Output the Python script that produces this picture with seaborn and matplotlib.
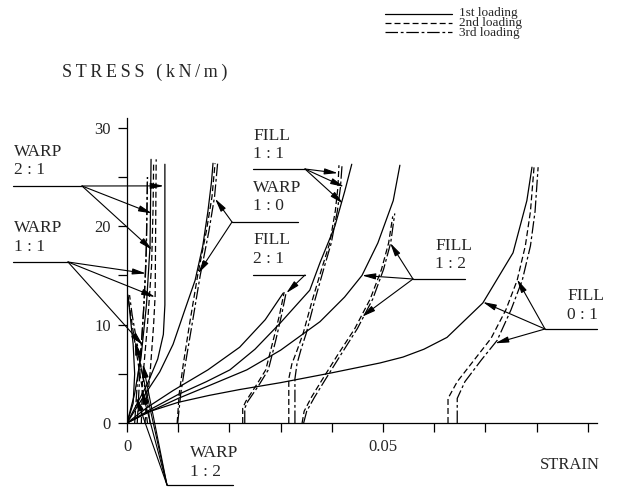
import numpy as np
import pandas as pd
import matplotlib
matplotlib.use('Agg')
import matplotlib.pyplot as plt
from matplotlib.lines import Line2D
import seaborn as sns

# --- Data: (strain, stress kN/m) ---
LOADINGS = ['1st loading', '2nd loading', '3rd loading']

WARP_21_1ST = [(0, 0), (0.002, 2), (0.004, 4), (0.006, 6.5), (0.0071, 9), (0.0074, 12), (0.0074, 26.3)]
WARP_21_2ND = [(0.0028, 0), (0.003, 4), (0.004, 10), (0.0048, 16), (0.0051, 22), (0.0052, 26.5)]
WARP_21_3RD = [(0.002, 0), (0.0025, 5), (0.0033, 12), (0.0038, 18), (0.004, 25)]

WARP_11_1ST = [(0, 0), (0.0015, 3), (0.0028, 7), (0.0038, 12), (0.0045, 18), (0.0047, 26.8)]
WARP_11_2ND = [(0.0035, 0), (0.0045, 5), (0.0052, 10), (0.0055, 13), (0.0056, 20), (0.0057, 26.8)]
WARP_11_3RD = [(0.0015, 0), (0.002, 4), (0.0028, 8), (0.0033, 12), (0.0037, 16), (0.0039, 22), (0.004, 25)]

WARP_12_1ST = [(0, 0), (0.0012, 2), (0.0015, 5), (0.0012, 8), (0.0006, 11), (0.0002, 13)]
WARP_12_2ND = [(0.004, 0), (0.0035, 2), (0.0025, 5), (0.0013, 9), (0.0002, 12.8)]
WARP_12_3RD = [(0.0045, 0), (0.004, 2), (0.003, 5), (0.002, 8), (0.001, 11), (0.0005, 13)]

WARP_10_1ST = [(0, 0), (0.003, 2.5), (0.0064, 5.2), (0.009, 8), (0.0113, 11.5), (0.0133, 14.5),
               (0.0148, 18), (0.0158, 21.5), (0.0165, 24.5), (0.0168, 26.4)]
WARP_10_2ND = [(0.0098, 0), (0.0102, 3), (0.011, 6), (0.0122, 10), (0.0138, 15), (0.0155, 19.5),
               (0.0166, 23), (0.0172, 26.4)]
WARP_10_3RD = [(0.0099, 0), (0.0105, 3), (0.0114, 6), (0.0127, 10), (0.0143, 15), (0.016, 19.5),
               (0.0171, 23), (0.0177, 26.4)]

FILL_21_1ST = [(0, 0), (0.004, 1.6), (0.009, 3.3), (0.0158, 5.4), (0.022, 7.7), (0.027, 10.5), (0.0305, 13.2)]
FILL_21_2ND = [(0.0226, 0), (0.0226, 1.5), (0.0232, 2.2), (0.0252, 3.8), (0.0271, 5.4), (0.0286, 8.5),
               (0.0298, 11), (0.0307, 13.3)]
FILL_21_3RD = [(0.023, 0), (0.023, 1.5), (0.0236, 2.2), (0.0257, 3.8), (0.0276, 5.4), (0.0291, 8.5),
               (0.0302, 11), (0.0311, 13.3)]

FILL_11_1ST = [(0, 0), (0.005, 1.5), (0.01, 2.9), (0.0155, 4.2), (0.0201, 5.4), (0.025, 7.5), (0.03, 10.2),
               (0.0357, 13.5), (0.0377, 16.3), (0.0406, 20), (0.0425, 23.5), (0.0439, 26.3)]
FILL_11_2ND = [(0.0316, 0), (0.0316, 4.5), (0.0322, 6), (0.0333, 7.5), (0.0344, 9.1), (0.0362, 12.5),
               (0.0381, 15.8), (0.0396, 18.3), (0.0407, 21.6), (0.0412, 24), (0.0414, 26.2)]
FILL_11_3RD = [(0.0328, 0), (0.0328, 4.5), (0.0332, 6), (0.034, 7.5), (0.035, 9.1), (0.0367, 12.5),
               (0.0385, 15.8), (0.0399, 18.3), (0.0411, 21.6), (0.0417, 24), (0.042, 26.2)]

FILL_12_1ST = [(0, 0), (0.005, 1.3), (0.01, 2.5), (0.0165, 3.9), (0.0234, 5.4), (0.03, 7.4), (0.0377, 10.3),
               (0.0425, 12.8), (0.0459, 15), (0.049, 18.3), (0.052, 22.6), (0.0533, 26.2)]
FILL_12_2ND = [(0.0342, 0), (0.0346, 1.2), (0.036, 2.6), (0.038, 4.3), (0.041, 6.8), (0.0445, 9.6),
               (0.0475, 12.6), (0.0497, 15.6), (0.0511, 18.3), (0.0519, 21)]
FILL_12_3RD = [(0.0345, 0), (0.0351, 1.2), (0.0366, 2.6), (0.0386, 4.3), (0.0416, 6.8), (0.045, 9.6),
               (0.048, 12.6), (0.0501, 15.6), (0.0515, 18.3), (0.0523, 21.3)]

FILL_01_1ST = [(0, 0), (0.004, 1.1), (0.01, 2.1), (0.016, 2.8), (0.022, 3.4), (0.03, 4.1), (0.04, 5.1),
               (0.0494, 6.1), (0.0539, 6.7), (0.058, 7.5), (0.0625, 8.7), (0.0695, 12.2), (0.0754, 17.3),
               (0.0781, 22.6), (0.0791, 26)]
FILL_01_2ND = [(0.0627, 0), (0.0627, 2.5), (0.0645, 4.2), (0.0678, 6.4), (0.0711, 8.6), (0.074, 11.5),
               (0.0762, 14.5), (0.0778, 18), (0.0788, 21.5), (0.0795, 26)]
FILL_01_3RD = [(0.0645, 0), (0.0645, 2.5), (0.066, 4.2), (0.0692, 6.4), (0.0723, 8.4), (0.075, 11.5),
               (0.0772, 14.5), (0.0788, 18), (0.0797, 21.5), (0.0803, 26)]

CURVES = {
    'WARP 2:1': [WARP_21_1ST, WARP_21_2ND, WARP_21_3RD],
    'WARP 1:1': [WARP_11_1ST, WARP_11_2ND, WARP_11_3RD],
    'WARP 1:2': [WARP_12_1ST, WARP_12_2ND, WARP_12_3RD],
    'WARP 1:0': [WARP_10_1ST, WARP_10_2ND, WARP_10_3RD],
    'FILL 2:1': [FILL_21_1ST, FILL_21_2ND, FILL_21_3RD],
    'FILL 1:1': [FILL_11_1ST, FILL_11_2ND, FILL_11_3RD],
    'FILL 1:2': [FILL_12_1ST, FILL_12_2ND, FILL_12_3RD],
    'FILL 0:1': [FILL_01_1ST, FILL_01_2ND, FILL_01_3RD],
}

rows = []
for spec, loads in CURVES.items():
    for load, pts in zip(LOADINGS, loads):
        for i, (x, y) in enumerate(pts):
            rows.append({'specimen': spec, 'loading': load, 'order': i, 'strain': x, 'stress': y})
df = pd.DataFrame(rows)
df['curve'] = df['specimen'] + ' / ' + df['loading']

# --- Style ---
sns.set_style('ticks')
plt.rcParams['font.family'] = ['Liberation Serif', 'DejaVu Serif']
plt.rcParams['lines.scale_dashes'] = False
DASHES = {'1st loading': '', '2nd loading': (4.3, 2.2), '3rd loading': (9, 2, 2, 2)}

W, H = 619, 490
fig = plt.figure(figsize=(W / 100, H / 100), dpi=100)


def fpx(x, y):
    # pixel position -> figure fraction
    return (x / W, 1 - y / H)


ax = fig.add_axes([127 / W, 67 / H, 470 / W, 305 / H])
sns.lineplot(data=df, x='strain', y='stress', units='curve', style='loading', style_order=LOADINGS,
             dashes=DASHES, estimator=None, sort=False, color='black', lw=0.9, legend=False, ax=ax)

ax.set_xlim(0, 0.0918)
ax.set_ylim(0, 31)
ax.set_xticks(np.arange(0, 0.0905, 0.01))
ax.set_xticklabels(['0', '', '', '', '', '0.05', '', '', '', ''])
ax.set_yticks(np.arange(0, 31, 5))
ax.set_yticklabels(['0', '', '10', '', '20', '', '30'])
ax.tick_params(direction='out', length=6.5, width=0.9, labelsize=12, color='black', pad=5)
ax.set_xlabel('')
ax.set_ylabel('')
for side in ['top', 'right']:
    ax.spines[side].set_visible(False)
for side in ['left', 'bottom']:
    ax.spines[side].set_linewidth(0.9)
    ax.spines[side].set_color('black')

# the axis title in the source is set slightly wider than the other labels
fig.text(*fpx(62, 72), '\u2009'.join('STRESS (kN/m)'), fontsize=13, va='center', ha='left')
fig.text(*fpx(540, 465), 'STRAIN', fontsize=12, va='center', ha='left')

# --- Specimen labels with leader arrows ---
ARROW = dict(arrowstyle='-|>,head_length=0.8,head_width=0.18', color='black', lw=0.8,
             shrinkA=0, shrinkB=0, mutation_scale=10)

LABELS = [
    # (title, ratio, text x, title y, ratio y, underline x0, x1, y, leader start x, [targets])
    ('WARP', '2 : 1', 14, 151, 171, 13, 82, 186, 82,
     [(0.0072, 24.1), (0.0049, 21.3), (0.0049, 17.6)]),
    ('WARP', '1 : 1', 14, 226, 248, 13, 68, 262, 68,
     [(0.0037, 15.2), (0.0055, 12.8), (0.0031, 7.9)]),
    ('FILL', '1 : 1', 253, 136, 154, 253, 305, 169, 305,
     [(0.0412, 25.4), (0.0424, 24.0), (0.0422, 22.3)]),
    ('WARP', '1 : 0', 253, 188, 206, 232, 298, 222, 232,
     [(0.0172, 22.8), (0.0139, 15.2)]),
    ('FILL', '2 : 1', 253, 240, 259, 253, 305, 275, 305,
     [(0.0311, 13.2)]),
    ('FILL', '1 : 2', 435, 244, 266, 413, 465, 279, 413,
     [(0.0514, 18.3), (0.0459, 15.0), (0.0459, 10.8)]),
    ('FILL', '0 : 1', 567, 295, 315, 545, 597, 329, 545,
     [(0.0695, 12.3), (0.0762, 14.6), (0.0719, 8.1)]),
    ('WARP', '1 : 2', 190, 452, 472, 167, 233, 485, 167,
     [(0.0018, 2.6), (0.0029, 3.3), (0.0031, 6.0), (0.0016, 8.3)]),
]

for title, ratio, tx, ty1, ty2, ux0, ux1, uy, sx, targets in LABELS:
    fig.text(*fpx(tx, (ty1 + ty2) / 2), title + '\n' + ratio, fontsize=12.5, va='center', ha='left',
             linespacing=1.25)
    x0, y0 = fpx(ux0, uy)
    x1, _ = fpx(ux1, uy)
    fig.add_artist(Line2D([x0, x1], [y0, y0], transform=fig.transFigure, color='black', lw=0.9))
    for tgt in targets:
        ax.annotate('', xy=tgt, xycoords='data', xytext=fpx(sx, uy), textcoords='figure fraction',
                    arrowprops=ARROW, annotation_clip=False)

# --- Legend (sample lines + one block of text) ---
for i, load in enumerate(LOADINGS):
    y = 14 + 9.2 * i
    (lx0, ly), (lx1, _) = fpx(385, y), fpx(452, y)
    ln = Line2D([lx0, lx1], [ly, ly], transform=fig.transFigure, color='black', lw=0.9)
    if DASHES[load]:
        ln.set_dashes(DASHES[load])
    fig.add_artist(ln)
fig.text(*fpx(459, 22.7), '\n'.join(LOADINGS), fontsize=9.5, va='center', ha='left', linespacing=0.78)

fig.savefig('out.png', dpi=100)
